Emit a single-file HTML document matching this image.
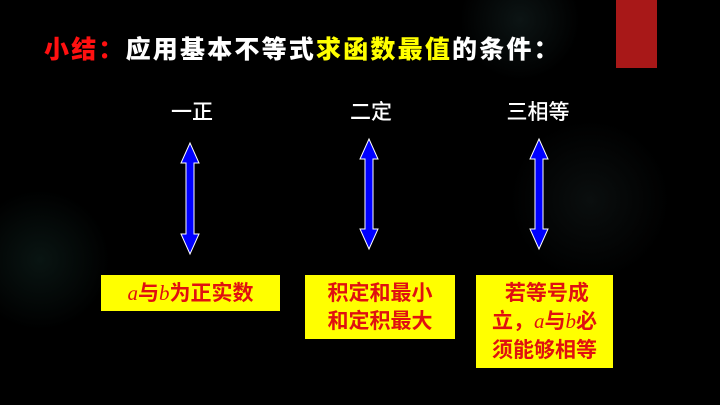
<!DOCTYPE html>
<html><head><meta charset="utf-8"><style>
body{margin:0;width:720px;height:405px;overflow:hidden;background:#000;position:relative;font-family:"Liberation Sans","Noto Sans CJK SC",sans-serif;}
.bg{position:absolute;inset:0;background:radial-gradient(circle at 40px 260px,rgba(20,45,40,0.45),transparent 70px),radial-gradient(circle at 520px 20px,rgba(30,50,50,0.4),transparent 60px),radial-gradient(circle at 590px 200px,rgba(25,35,35,0.4),transparent 80px);}
.red{position:absolute;left:616px;top:0;width:41px;height:68px;background:#a81818;}
.title{position:absolute;left:44px;top:30px;font-size:25px;font-weight:900;color:#fff;white-space:nowrap;letter-spacing:2.2px;font-family:"Noto Sans CJK SC",sans-serif;}
.lab{position:absolute;top:96px;font-size:21px;color:#fff;width:120px;text-align:center;font-weight:500;font-family:"Noto Sans CJK SC",sans-serif;}
.box{position:absolute;background:#ffff00;color:#e01010;font-size:21px;line-height:28px;text-align:center;box-sizing:border-box;padding-top:3px;font-weight:bold;font-family:"Noto Sans CJK SC",sans-serif;}
i{font-family:"Liberation Serif",serif;font-weight:normal;}
svg{position:absolute;left:0;top:0;}
</style></head><body>
<div class="bg"></div>
<div class="red"></div>
<div class="title"><span style="color:#ff1010">小结：</span>应用基本不等式<span style="color:#ffff00">求函数最值</span>的条件：</div>
<div class="lab" style="left:132px">一正</div>
<div class="lab" style="left:311px">二定</div>
<div class="lab" style="left:478px">三相等</div>
<svg width="720" height="405">
<g fill="#0000ff" stroke="#fff" stroke-width="1">
<polygon points="190,143 199,163 194,163 194,234 199,234 190,254 181,234 186,234 186,163 181,163"/>
<polygon points="369,139 378,159 373,159 373,229 378,229 369,249 360,229 365,229 365,159 360,159"/>
<polygon points="539,139 548,159 543,159 543,229 548,229 539,249 530,229 535,229 535,159 530,159"/>
</g></svg>
<div class="box" style="left:101px;top:275px;width:179px;height:36px;"><i>a</i>与<i>b</i>为正实数</div>
<div class="box" style="left:305px;top:275px;width:150px;height:64px;">积定和最小<br>和定积最大</div>
<div class="box" style="left:476px;top:275px;width:137px;height:93px;">&nbsp;若等号成<br>立，<i>a</i>与<i>b</i>必<br>须能够相等</div>
</body></html>
